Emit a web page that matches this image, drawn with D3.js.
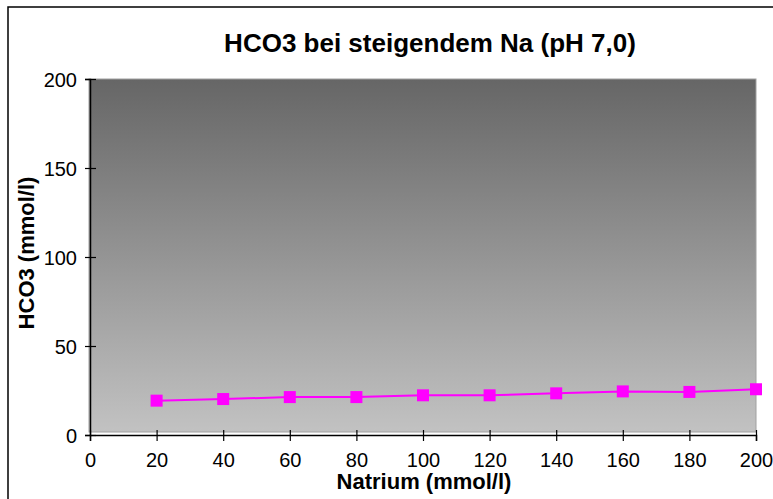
<meta charset="utf-8">
<title>HCO3 bei steigendem Na</title>
<script src="https://d3js.org/d3.v7.min.js"></script>
<style>
  body {
    margin: 0;
    background: white;
  }
  text {
    font-family: "Liberation Sans", Arial, sans-serif;
  }
</style>
<body>
<svg width="773" height="499"></svg>
<script>

  const
    natrium = [20, 40, 60, 80, 100, 120, 140, 160, 180, 200],
    hco3 = [19.3, 20.2, 21.3, 21.3, 22.3, 22.3, 23.4, 24.5, 24.2, 25.7],
    xTicks = [0, 20, 40, 60, 80, 100, 120, 140, 160, 180, 200],
    yTicks = [0, 50, 100, 150, 200]

  // plot box (window.top is taken, so no bare "top")
  const
    svg = d3.select('svg'),
    plotL = 90, plotR = 756, plotT = 79, plotB = 435

  const xScale = d3.scaleLinear()
          .domain([0, 200])
          .range([plotL, plotR])

        , yScale = d3.scaleLinear()
          .domain([0, 200])
          .range([plotB, plotT])

  // outer frame, runs off the right and bottom edge like the original
  svg.append('rect')
    .attr('x', 8).attr('y', 7)
    .attr('width', 900).attr('height', 700)
    .attr('fill', 'white')
    .attr('stroke', 'black')
    .attr('stroke-width', 1.5)

  // plot area gradient, dark at top
  const grad = svg.append('defs').append('linearGradient')
    .attr('id', 'bg')
    .attr('x1', 0).attr('y1', 0).attr('x2', 0).attr('y2', 1)
  grad.append('stop').attr('offset', '0%').attr('stop-color', '#666666')
  grad.append('stop').attr('offset', '100%').attr('stop-color', '#c2c2c2')

  svg.append('rect')
    .attr('x', plotL - 1).attr('y', plotT)
    .attr('width', plotR - plotL + 1).attr('height', plotB - plotT - 3)
    .attr('fill', 'url(#bg)')
    .attr('stroke', '#a0a0a0')
    .attr('stroke-width', 1)

  // title
  svg.append('text')
    .attr('x', 430).attr('y', 52)
    .attr('text-anchor', 'middle')
    .attr('font-weight', 'bold')
    .attr('font-size', 26)
    .text('HCO3 bei steigendem Na (pH 7,0)')

  // axes
  const xAxis = svg.append('g')
    .attr('transform', `translate(0,${plotB})`)
    .call(d3.axisBottom(xScale).tickValues(xTicks).tickSize(6).tickPadding(12))

  const yAxis = svg.append('g')
    .attr('transform', `translate(${plotL},0)`)
    .call(d3.axisLeft(yScale).tickValues(yTicks).tickSize(5).tickPadding(8))

  ;[xAxis, yAxis].forEach(ax => {
    ax.select('.domain').attr('stroke', 'black').attr('stroke-width', 1.5)
    ax.selectAll('.tick line').attr('stroke', 'black').attr('stroke-width', 1.2)
    ax.selectAll('.tick text')
      .attr('fill', 'black')
      .attr('font-size', 20)
      .attr('font-family', '"Liberation Sans", Arial, sans-serif')
  })
  // ticks cross the axis line
  xAxis.selectAll('.tick line').attr('y1', -5)
  yAxis.selectAll('.tick line').attr('x1', 6)
  yAxis.selectAll('.tick text').attr('dy', '0.36em')

  // axis titles
  svg.append('text')
    .attr('x', 424).attr('y', 489)
    .attr('text-anchor', 'middle')
    .attr('font-weight', 'bold')
    .attr('font-size', 22)
    .text('Natrium (mmol/l)')

  svg.append('text')
    .attr('transform', 'translate(34,253) rotate(-90)')
    .attr('text-anchor', 'middle')
    .attr('font-weight', 'bold')
    .attr('font-size', 22)
    .text('HCO3 (mmol/l)')

  // series
  const points = natrium.map((n, i) => [n, hco3[i]])

  const line = d3.line()
    .x(d => xScale(d[0]))
    .y(d => yScale(d[1]))

  svg.append('path')
    .attr('d', line(points))
    .attr('fill', 'none')
    .attr('stroke', '#ff00ff')
    .attr('stroke-width', 2)

  const size = 12
  svg.selectAll('.marker')
    .data(points)
    .join('rect')
    .attr('class', 'marker')
    .attr('x', d => xScale(d[0]) - size / 2)
    .attr('y', d => yScale(d[1]) - size / 2)
    .attr('width', size).attr('height', size)
    .attr('fill', '#ff00ff')

</script>
</body>
